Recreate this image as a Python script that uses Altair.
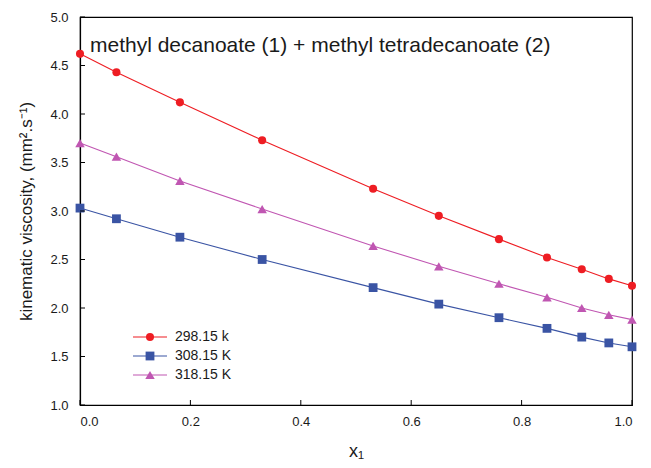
import altair as alt
import pandas as pd

x1 = [0.0, 0.066, 0.181, 0.330, 0.531, 0.650, 0.759, 0.846, 0.909, 0.958, 1.0]
nu_298 = [4.62, 4.43, 4.12, 3.73, 3.23, 2.95, 2.71, 2.52, 2.40, 2.30, 2.23]
nu_308 = [3.03, 2.92, 2.73, 2.50, 2.21, 2.04, 1.90, 1.79, 1.70, 1.64, 1.60]
nu_318 = [3.70, 3.56, 3.31, 3.02, 2.64, 2.43, 2.25, 2.11, 2.00, 1.93, 1.88]

labels = ["298.15 k", "308.15 K", "318.15 K"]
colors = ["#ee1d23", "#3a54a4", "#c056b2"]
shapes = ["circle", "square", "triangle-up"]
sizes = [65, 90, 80]

x_ticks = [0.0, 0.2, 0.4, 0.6, 0.8, 1.0]
y_ticks = [1.0, 1.5, 2.0, 2.5, 3.0, 3.5, 4.0, 4.5, 5.0]
title_text = "methyl decanoate (1) + methyl tetradecanoate (2)"

W, H = 552, 388
FONT = "Liberation Sans"

rows = []
for lab, ys in zip(labels, [nu_298, nu_308, nu_318]):
    for xv, yv in zip(x1, ys):
        rows.append({"x1": xv, "nu": yv, "series": lab})
df = pd.DataFrame(rows)

color = alt.Color("series:N", scale=alt.Scale(domain=labels, range=colors), legend=None)
shape = alt.Shape("series:N", scale=alt.Scale(domain=labels, range=shapes), legend=None)
size = alt.Size("series:N", scale=alt.Scale(domain=labels, range=sizes), legend=None)

xenc = alt.X("x1:Q", scale=alt.Scale(domain=[0, 1], nice=False),
             axis=alt.Axis(values=x_ticks, format=".1f", title="x\u2081",
                           titleFontSize=18, titlePadding=14, labelPadding=10))
yenc = alt.Y("nu:Q", scale=alt.Scale(domain=[1, 5], nice=False),
             axis=alt.Axis(values=y_ticks, format=".1f",
                           title="kinematic viscosity, (mm\u00b2.s\u207b\u00b9)",
                           titleFontSize=17, titlePadding=14, labelPadding=12))

base = alt.Chart(df)
lines = base.mark_line(strokeWidth=1.1).encode(x=xenc, y=yenc, color=color, detail="series:N")
points = base.mark_point(filled=True, opacity=1).encode(
    x="x1:Q", y="nu:Q", color=color, shape=shape, size=size)

xt = alt.Chart(pd.DataFrame({"t": x_ticks})).mark_rule(color="black", strokeWidth=1).encode(
    x="t:Q", y=alt.value(H), y2=alt.value(H - 5))
yt = alt.Chart(pd.DataFrame({"t": y_ticks})).mark_rule(color="black", strokeWidth=1).encode(
    y="t:Q", x=alt.value(0), x2=alt.value(5))

title = alt.Chart(pd.DataFrame({"t": [title_text]})).mark_text(
    align="left", baseline="alphabetic", fontSize=21, font=FONT, color="#1a1a1a"
).encode(text="t:N", x=alt.value(10), y=alt.value(35))

leg_df = pd.DataFrame({"series": labels})
ly = alt.Y("series:N", scale=alt.Scale(type="point", domain=labels, range=[320, 358], padding=0),
           axis=None)
leg_line = alt.Chart(leg_df).mark_rule(strokeWidth=1.2).encode(
    y=ly, x=alt.value(53), x2=alt.value(87), color=color)
leg_pt = alt.Chart(leg_df).mark_point(filled=True, opacity=1).encode(
    y=ly, x=alt.value(70), color=color, shape=shape, size=size)
leg_txt = alt.Chart(leg_df).mark_text(align="left", baseline="middle", fontSize=14,
                                      font=FONT, color="#1a1a1a").encode(
    y=ly, x=alt.value(95), text="series:N")

main = alt.layer(lines, points, xt, yt, title)
legend = alt.layer(leg_line, leg_pt, leg_txt)

chart = alt.layer(main, legend).resolve_scale(y="independent").properties(
    width=W, height=H,
    autosize=alt.AutoSizeParams(type="none"),
    padding={"left": 72, "top": 9, "right": 10, "bottom": 62},
).configure_view(stroke="black", strokeWidth=1.2).configure_axis(
    grid=False, ticks=False, domainColor="black", domainWidth=1.2,
    labelFont=FONT, titleFont=FONT, labelFontSize=13, labelColor="#1a1a1a",
    titleColor="#1a1a1a", titleFontWeight="normal",
)

chart.save("out.html", embed_options={"renderer": "svg", "actions": False})
